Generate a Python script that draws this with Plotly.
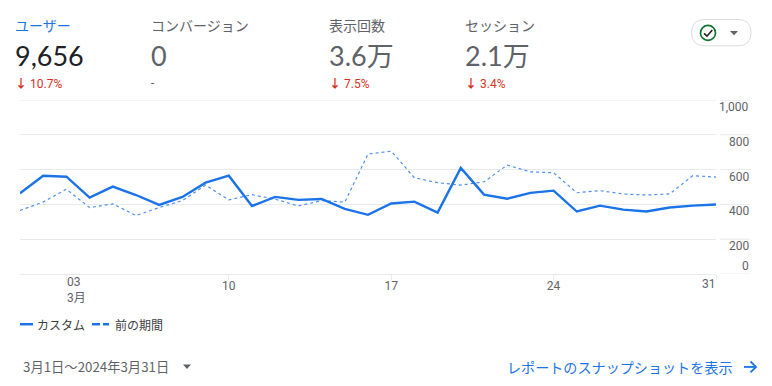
import plotly.graph_objects as go

days = list(range(1, 32))
current_users = [464, 565, 559, 439, 502, 454, 397, 443, 525, 565, 391, 443, 426, 431, 374, 340,
                 405, 416, 353, 610, 456, 433, 466, 479, 359, 393, 370, 359, 382, 393, 399]
previous_users = [365, 414, 487, 382, 403, 336, 382, 422, 511, 426, 456, 430, 391, 422, 413, 689,
                  706, 553, 525, 511, 530, 626, 587, 582, 467, 479, 460, 454, 460, 565, 557]
series_names = ["カスタム", "前の期間"]
y_ticks = [0, 200, 400, 600, 800, 1000]
y_tick_labels = ["0", "200", "400", "600", "800", "1,000"]
x_ticks = [3, 10, 17, 24, 31]
x_tick_labels = ["", "10", "17", "24", ""]
metric_names = ["ユーザー", "コンバージョン", "表示回数", "セッション"]
metric_values = ["9,656", "0", "3.6万", "2.1万"]
metric_changes = ["10.7%", "-", "7.5%", "3.4%"]

W, H = 772, 386
L, R, T, B = 20, 716, 99.5, 274.5
BLUE = "#1a73e8"
GREY = "#5f6368"
RED = "#d93025"
GRID = "#e8eaed"
SANS = "Roboto, 'Noto Sans CJK JP', sans-serif"
CJK = "'Noto Sans CJK JP', Roboto, sans-serif"


def px(x):
    return (x - L) / (R - L)


def py(y):
    return (B - y) / (B - T)


fig = go.Figure()
fig.add_trace(go.Scatter(x=days, y=previous_users, name=series_names[1], mode="lines",
                         line=dict(color="#4f90ee", width=1.2, dash="3px,3px")))
fig.add_trace(go.Scatter(x=days, y=current_users, name=series_names[0], mode="lines",
                         line=dict(color=BLUE, width=2.4)))

ann = []


def text(x, y, s, size=12, color=GREY, anchor="left", family=SANS):
    ann.append(dict(xref="paper", yref="paper", x=px(x), y=py(y), text=s, showarrow=False,
                    xanchor=anchor, yanchor="middle", align=anchor, borderpad=0, borderwidth=0,
                    font=dict(size=size, color=color, family=family)))


metric_x = [15, 151, 329, 465]
metric_font = "Lato, Roboto, 'Noto Sans CJK JP', sans-serif"
for i in range(4):
    x = metric_x[i]
    text(x, 24.5, metric_names[i], 14, BLUE if i == 0 else GREY, family=CJK)
    text(x, 55, metric_values[i], 27, "#202124" if i == 0 else GREY, family=metric_font)
    if metric_changes[i] == "-":
        text(x, 82, "-", 12, GREY)
    else:
        text(x, 83, "<b>↓</b> " + metric_changes[i], 12, RED)

# y labels: sit just under their gridlines, the zero label above the axis
for v, lab in zip(y_ticks, y_tick_labels):
    ann.append(dict(xref="paper", yref="y", x=px(751), y=v, text=lab, showarrow=False,
                    xanchor="right", yanchor="middle", yshift=8 if v == 0 else -7,
                    font=dict(size=12, color=GREY, family=SANS)))

# first and last x labels are nudged inside in the original
ann.append(dict(xref="x", yref="paper", x=3, y=py(291), text="03<br>3月", showarrow=False, xanchor="left",
                yanchor="middle", align="left", xshift=-1, font=dict(size=12, color=GREY, family=SANS)))
ann.append(dict(xref="x", yref="paper", x=31, y=py(285), text="31", showarrow=False, xanchor="right",
                yanchor="middle", xshift=2, font=dict(size=12, color=GREY, family=SANS)))

text(37, 325, series_names[0], 12, "#3c4043", family=CJK)
text(115, 325, series_names[1], 12, "#3c4043", family=CJK)
text(23, 367.5, "3月1日～2024年3月31日", 13.3, GREY, family=CJK)
text(507, 368, "レポートのスナップショットを表示", 14.1, BLUE, family=CJK)

shapes = []


def hline(x0, x1, y, color, width=1):
    shapes.append(dict(type="line", xref="paper", yref="paper", x0=px(x0), x1=px(x1), y0=py(y), y1=py(y),
                       line=dict(color=color, width=width)))


def path(pts, fill=None, color=None, width=0, close=True):
    d = "M " + " L ".join(f"{px(a):.5f},{py(b):.5f}" for a, b in pts) + (" Z" if close else "")
    shapes.append(dict(type="path", xref="paper", yref="paper", path=d, fillcolor=fill,
                       line=dict(color=color, width=width)))


# gridline stubs beside the plot area, behind the y labels
for v in y_ticks:
    shapes.append(dict(type="line", xref="paper", yref="y", x0=px(720), x1=px(750), y0=v, y1=v,
                       line=dict(color=GRID, width=1), layer="below"))
# top gridline sits on the range edge, where the axis does not draw one
shapes.append(dict(type="line", xref="paper", yref="y", x0=0, x1=1, y0=y_ticks[-1], y1=y_ticks[-1],
                   line=dict(color=GRID, width=1), layer="below"))

# legend keys
hline(20, 33, 325, BLUE, 2.5)
hline(92, 100, 325, BLUE, 2.5)
hline(103, 109, 325, BLUE, 2.5)

# status pill
shapes.append(dict(type="path", xref="paper", yref="paper",
                   line=dict(color="#dadce0", width=1), fillcolor="white", layer="below", path=(
    "M {} {} L {} {} Q {} {} {} {} Q {} {} {} {} L {} {} Q {} {} {} {} Q {} {} {} {} Z".format(
        px(705), py(18.5), px(738), py(18.5), px(751), py(18.5), px(751), py(31.75), px(751), py(45), px(738), py(45),
        px(705), py(45), px(691.5), py(45), px(691.5), py(31.75), px(691.5), py(18.5), px(705), py(18.5)))))
shapes.append(dict(type="circle", xref="paper", yref="paper", x0=px(700.5), x1=px(715.5), y0=py(24.5), y1=py(39.5),
                   line=dict(color="#137333", width=1.7), fillcolor="white"))
path([(704, 32.5), (707, 35.3), (712.3, 29)], color="#202124", width=1.6, close=False)
path([(730, 30), (738, 30), (734, 34.5)], fill=GREY, color=GREY, width=0)

# date dropdown caret
path([(183, 365.5), (191, 365.5), (187, 370)], fill=GREY, color=GREY, width=0)

# report arrow
path([(744, 368), (755.5, 368)], color=BLUE, width=1.8, close=False)
path([(750.5, 362.5), (756, 368), (750.5, 373.5)], color=BLUE, width=1.8, close=False)

fig.update_layout(
    width=W, height=H,
    margin=dict(l=L, r=W - R, t=T, b=H - B, pad=0, autoexpand=False),
    paper_bgcolor="white", plot_bgcolor="white", showlegend=False,
    xaxis=dict(range=[1, 31], tickmode="array", tickvals=x_ticks, ticktext=x_tick_labels,
               ticks="outside", ticklen=5, tickcolor=GRID, tickwidth=1, showgrid=False, zeroline=False,
               showline=True, linecolor=GRID, linewidth=1, ticklabelstandoff=-4,
               tickfont=dict(size=12, color=GREY, family=SANS)),
    yaxis=dict(range=[0, 1000], tickmode="array", tickvals=y_ticks, showticklabels=False, ticks="",
               showgrid=True, gridcolor=GRID, gridwidth=1, zeroline=False, showline=False),
    annotations=ann, shapes=shapes,
    hovermode=False,
)
fig.write_html("out.html", config=dict(displayModeBar=False),
               post_script="document.body.style.margin='0';")
